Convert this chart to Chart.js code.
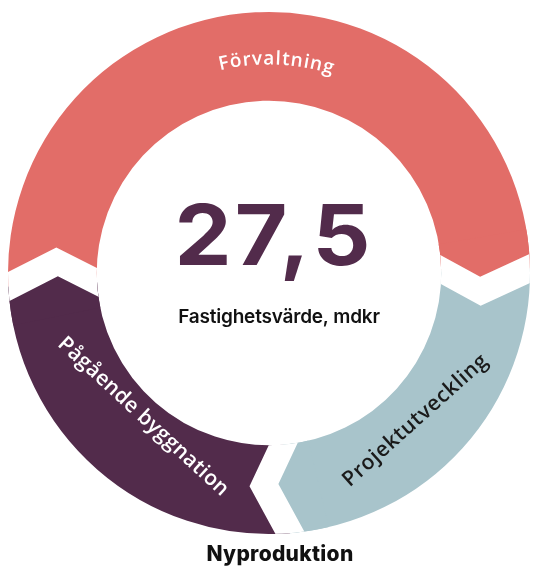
<!DOCTYPE html>
<html>
<head>
<meta charset="utf-8">
<script src="https://cdn.jsdelivr.net/npm/chart.js@4.4.1/dist/chart.umd.min.js"></script>
<style>
  html, body { margin: 0; padding: 0; background: #fff; }
  #wrap { width: 534px; height: 570px; position: relative; }
</style>
</head>
<body>
<div id="wrap"><canvas id="ring" width="534" height="570"></canvas></div>
<script>
// Fastighetsvärde per del, mdkr
const segments = ['Förvaltning', 'Projektutveckling', 'Pågående byggnation'];
const values = [13.9, 6.6, 7.0];
const colors = ['#E26D68', '#A8C4CB', '#522B4B'];
const labelColors = ['#ffffff', '#1a1a1a', '#ffffff'];
const totalLabel = '27,5';
const totalCaption = 'Fastighetsvärde, mdkr';
const footLabel = 'Nyproduktion';

const DEG = Math.PI / 180;

function poly(ctx, pts) {
  ctx.beginPath();
  ctx.moveTo(pts[0][0], pts[0][1]);
  for (let k = 1; k < pts.length; k++) ctx.lineTo(pts[k][0], pts[k][1]);
  ctx.closePath();
  ctx.fill();
}

// text bent along the ring, reading clockwise, tops pointing out
function curvedText(ctx, text, cx, cy, r, mid, spacing) {
  const chars = [...text];
  const widths = chars.map(ch => ctx.measureText(ch).width);
  const total = widths.reduce((s, w) => s + w, 0) + spacing * (chars.length - 1);
  let a = mid - total / 2 / r;
  chars.forEach((ch, k) => {
    const ac = a + widths[k] / 2 / r;
    ctx.save();
    ctx.translate(cx, cy);
    ctx.rotate(ac + Math.PI / 2);
    ctx.fillText(ch, 0, -r);
    ctx.restore();
    a += (widths[k] + spacing) / r;
  });
}

function straightText(ctx, text, x, y, rot) {
  ctx.save();
  ctx.translate(x, y);
  ctx.rotate(rot);
  ctx.fillText(text, 0, 0);
  ctx.restore();
}

// chevron ends: every segment ends in a point and starts in a notch
const arrowPlugin = {
  id: 'arrows',
  afterDatasetsDraw(chart) {
    const ctx = chart.ctx;
    const arcs = chart.getDatasetMeta(0).data;
    const { x: cx, y: cy, outerRadius: ro, innerRadius: ri } = arcs[0];
    const pt = (a, r) => [cx + r * Math.cos(a), cy + r * Math.sin(a)];
    const rm = ri + 0.45 * (ro - ri);
    const tip = 6 * DEG;
    const gap = 14.5;

    ctx.save();
    ctx.beginPath();
    ctx.arc(cx, cy, ro, 0, Math.PI * 2);
    ctx.arc(cx, cy, ri, 0, Math.PI * 2, true);
    ctx.clip();

    arcs.forEach((arc, i) => {
      const th = arc.endAngle;
      const tx = -Math.sin(th), ty = Math.cos(th);
      const M = pt(th + tip, rm);
      const O = pt(th, ro), I = pt(th, ri);
      const O2 = [M[0] + (O[0] - M[0]) * 1.5, M[1] + (O[1] - M[1]) * 1.5];
      const I2 = [M[0] + (I[0] - M[0]) * 1.8, M[1] + (I[1] - M[1]) * 1.8];
      const sh = (p, s) => [p[0] + tx * s, p[1] + ty * s];

      ctx.fillStyle = colors[i];
      poly(ctx, [pt(th - 0.15, ro + 30), O2, M, I2, pt(th - 0.15, ri - 30)]);

      ctx.fillStyle = '#ffffff';
      poly(ctx, [sh(O2, -gap), sh(M, -gap), sh(I2, -gap), sh(I2, gap), sh(M, gap), sh(O2, gap)]);
    });
    ctx.restore();
  },
  afterDraw(chart) {
    const ctx = chart.ctx;
    const arcs = chart.getDatasetMeta(0).data;
    const { x: cx, y: cy } = arcs[0];
    const mids = arcs.map(a => (a.startAngle + a.endAngle) / 2);

    ctx.save();
    ctx.textAlign = 'center';
    ctx.textBaseline = 'middle';

    // Förvaltning
    ctx.fillStyle = labelColors[0];
    ctx.font = '600 19px "Open Sans"';
    curvedText(ctx, segments[0], cx, cy, 214, mids[0] + 4 * DEG, 1.2);

    // Projektutveckling, straight along the lower right
    ctx.fillStyle = labelColors[1];
    ctx.font = '600 21px "Open Sans"';
    ctx.letterSpacing = '0.6px';
    let a = mids[1] + 3 * DEG;
    straightText(ctx, segments[1], cx + 208 * Math.cos(a), cy + 208 * Math.sin(a), a - Math.PI / 2 + 3 * DEG);

    // Pågående byggnation, straight along the lower left
    ctx.fillStyle = labelColors[2];
    ctx.letterSpacing = '0.3px';
    a = mids[2];
    straightText(ctx, segments[2], cx + 191 * Math.cos(a), cy + 191 * Math.sin(a), a - Math.PI / 2 + 1.5 * DEG);

    // centre
    ctx.textBaseline = 'alphabetic';
    ctx.fillStyle = '#522B4B';
    ctx.font = '700 84px Inter';
    ctx.letterSpacing = '3px';
    ctx.save();
    ctx.translate(cx + 5, cy - 8);
    ctx.scale(1.08, 1);
    ctx.fillText(totalLabel, 0, 0);
    ctx.restore();

    ctx.letterSpacing = '-0.2px';
    ctx.fillStyle = '#111111';
    ctx.font = '600 19px Inter';
    ctx.fillText(totalCaption, cx + 10, cy + 50);

    ctx.font = '800 21px Inter';
    ctx.letterSpacing = '0.3px';
    ctx.fillText(footLabel, cx + 11, cy + 288);
    ctx.restore();
  }
};

new Chart(document.getElementById('ring'), {
  type: 'doughnut',
  data: {
    labels: segments,
    datasets: [{
      data: values,
      backgroundColor: colors,
      borderWidth: 0,
      hoverOffset: 0
    }]
  },
  options: {
    responsive: false,
    animation: false,
    devicePixelRatio: 1,
    rotation: 267,
    cutout: '66%',
    layout: { padding: { left: 8, right: 4, top: 12, bottom: 36 } },
    plugins: {
      legend: { display: false },
      tooltip: { enabled: false }
    },
    events: []
  },
  plugins: [arrowPlugin]
});
</script>
</body>
</html>
